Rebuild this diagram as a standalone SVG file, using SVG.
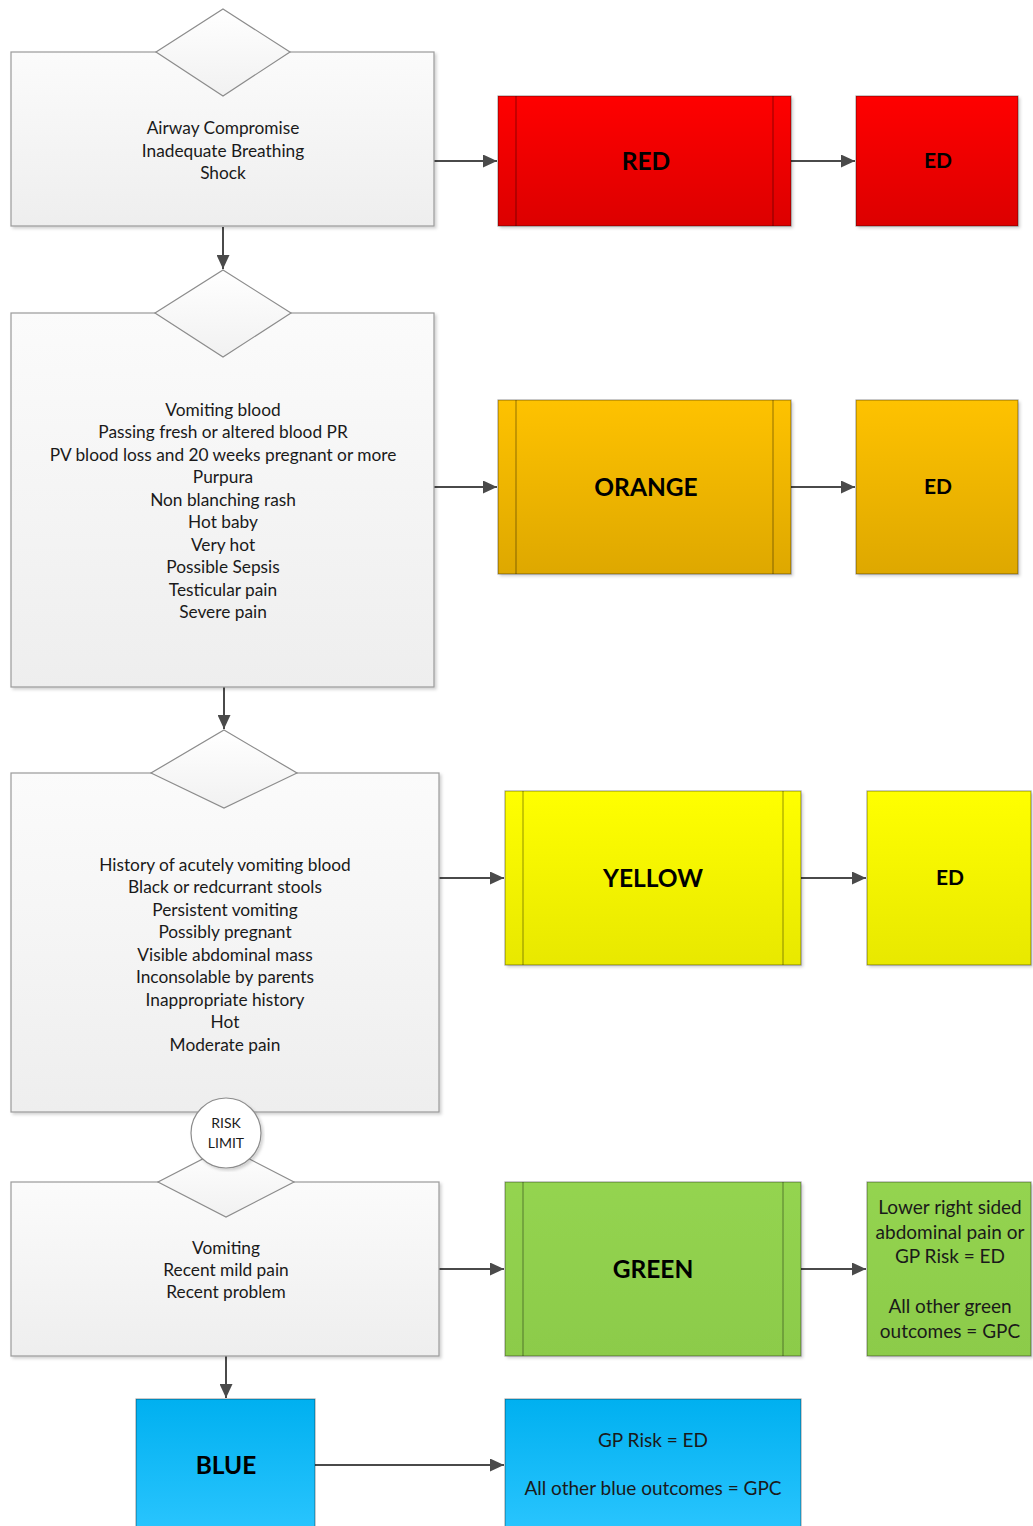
<svg xmlns="http://www.w3.org/2000/svg" width="1033" height="1526" viewBox="0 0 1033 1526">
<defs>
<linearGradient id="gGrey" x1="0" y1="0" x2="0" y2="1"><stop offset="0" stop-color="#fbfbfb"/><stop offset="1" stop-color="#eeeeee"/></linearGradient>
<linearGradient id="gDia" x1="0" y1="0" x2="0" y2="1"><stop offset="0" stop-color="#ffffff"/><stop offset="1" stop-color="#f1f1f1"/></linearGradient>
<linearGradient id="gRed" x1="0" y1="0" x2="0" y2="1"><stop offset="0" stop-color="#ff0000"/><stop offset="1" stop-color="#dc0000"/></linearGradient>
<linearGradient id="gOrange" x1="0" y1="0" x2="0" y2="1"><stop offset="0" stop-color="#fec200"/><stop offset="1" stop-color="#dea800"/></linearGradient>
<linearGradient id="gYellow" x1="0" y1="0" x2="0" y2="1"><stop offset="0" stop-color="#ffff00"/><stop offset="1" stop-color="#e8e800"/></linearGradient>
<linearGradient id="gGreen" x1="0" y1="0" x2="0" y2="1"><stop offset="0" stop-color="#94d450"/><stop offset="1" stop-color="#8ccb4a"/></linearGradient>
<linearGradient id="gBlue" x1="0" y1="0" x2="0" y2="1"><stop offset="0" stop-color="#00b0f0"/><stop offset="1" stop-color="#2cc6ff"/></linearGradient>
<filter id="sh" x="-5%" y="-5%" width="110%" height="110%"><feDropShadow dx="2" dy="2" stdDeviation="1.5" flood-color="#000" flood-opacity="0.18"/></filter>
<marker id="arr" viewBox="0 0 10 10" refX="10" refY="5" markerWidth="7" markerHeight="6.5" markerUnits="strokeWidth" orient="auto" preserveAspectRatio="none"><path d="M0,0 L10,5 L0,10 z" fill="#4a4a4a"/></marker>
</defs>
<style>
.grey{fill:url(#gGrey);stroke:#9a9a9a;stroke-width:1.2}
.dia{fill:url(#gDia);stroke:#8c8c8c;stroke-width:1.2}
.col{stroke:#000;stroke-opacity:0.35;stroke-width:1.2}
.inner{stroke:#000;stroke-opacity:0.35;stroke-width:1.2;fill:none}
.t{font-family:"Lato","Liberation Sans",sans-serif;font-size:17.3px;fill:#1a1a1a;text-anchor:middle}
.big{font-family:"Lato","Liberation Sans",sans-serif;font-size:24.5px;font-weight:bold;fill:#000;text-anchor:middle}
.ed{font-family:"Lato","Liberation Sans",sans-serif;font-size:21px;font-weight:bold;fill:#000;text-anchor:middle}
.out{font-family:"Lato","Liberation Sans",sans-serif;font-size:19px;fill:#1a1a1a;text-anchor:middle}
.small{font-family:"Lato","Liberation Sans",sans-serif;font-size:14px;fill:#1a1a1a;text-anchor:middle}
.c{stroke:#4a4a4a;stroke-width:2;fill:none;marker-end:url(#arr)}
</style>

<g id="connectors">
<line class="c" x1="434" y1="161" x2="497" y2="161"/>
<line class="c" x1="791" y1="161" x2="855" y2="161"/>
<line class="c" x1="223" y1="227" x2="223" y2="269"/>
<line class="c" x1="434" y1="487" x2="497" y2="487"/>
<line class="c" x1="791" y1="487" x2="855" y2="487"/>
<line class="c" x1="224" y1="687" x2="224" y2="729"/>
<line class="c" x1="439" y1="878" x2="504" y2="878"/>
<line class="c" x1="801" y1="878" x2="866" y2="878"/>
<line class="c" x1="439" y1="1269" x2="504" y2="1269"/>
<line class="c" x1="801" y1="1269" x2="866" y2="1269"/>
<line class="c" x1="226" y1="1356" x2="226" y2="1398"/>
<line class="c" x1="315" y1="1465" x2="504" y2="1465"/>
</g>

<g id="node-box1">
<rect class="grey" x="11" y="52" width="423" height="174" filter="url(#sh)"/>
<polygon class="dia" points="223,9 290,52 223,96 156,52"/>
<text class="t" x="223" y="134">Airway Compromise</text>
<text class="t" x="223" y="157">Inadequate Breathing</text>
<text class="t" x="223" y="179">Shock</text>
</g>

<g id="node-red">
<rect class="col" x="498" y="96" width="293" height="130" fill="url(#gRed)" filter="url(#sh)"/>
<line class="inner" x1="516" y1="96" x2="516" y2="226"/>
<line class="inner" x1="773" y1="96" x2="773" y2="226"/>
<text class="big" x="646" y="170">RED</text>
</g>
<g id="node-red-ed">
<rect class="col" x="856" y="96" width="162" height="130" fill="url(#gRed)" filter="url(#sh)"/>
<text class="ed" x="938" y="168">ED</text>
</g>

<g id="node-box2">
<rect class="grey" x="11" y="313" width="423" height="374" filter="url(#sh)"/>
<polygon class="dia" points="223,270 291,313 223,357 155,313"/>
<text class="t" x="223" y="416">Vomiting blood</text>
<text class="t" x="223" y="438">Passing fresh or altered blood PR</text>
<text class="t" x="223" y="461">PV blood loss and 20 weeks pregnant or more</text>
<text class="t" x="223" y="483">Purpura</text>
<text class="t" x="223" y="506">Non blanching rash</text>
<text class="t" x="223" y="528">Hot baby</text>
<text class="t" x="223" y="551">Very hot</text>
<text class="t" x="223" y="573">Possible Sepsis</text>
<text class="t" x="223" y="596">Testicular pain</text>
<text class="t" x="223" y="618">Severe pain</text>
</g>

<g id="node-orange">
<rect class="col" x="498" y="400" width="293" height="174" fill="url(#gOrange)" filter="url(#sh)"/>
<line class="inner" x1="516" y1="400" x2="516" y2="574"/>
<line class="inner" x1="773" y1="400" x2="773" y2="574"/>
<text class="big" x="646" y="496">ORANGE</text>
</g>
<g id="node-orange-ed">
<rect class="col" x="856" y="400" width="162" height="174" fill="url(#gOrange)" filter="url(#sh)"/>
<text class="ed" x="938" y="494">ED</text>
</g>

<g id="node-box3">
<rect class="grey" x="11" y="773" width="428" height="339" filter="url(#sh)"/>
<polygon class="dia" points="224,730 297,773 224,808 151,773"/>
<text class="t" x="225" y="871">History of acutely vomiting blood</text>
<text class="t" x="225" y="893">Black or redcurrant stools</text>
<text class="t" x="225" y="916">Persistent vomiting</text>
<text class="t" x="225" y="938">Possibly pregnant</text>
<text class="t" x="225" y="961">Visible abdominal mass</text>
<text class="t" x="225" y="983">Inconsolable by parents</text>
<text class="t" x="225" y="1006">Inappropriate history</text>
<text class="t" x="225" y="1028">Hot</text>
<text class="t" x="225" y="1051">Moderate pain</text>
</g>

<g id="node-yellow">
<rect class="col" x="505" y="791" width="296" height="174" fill="url(#gYellow)" filter="url(#sh)"/>
<line class="inner" x1="523" y1="791" x2="523" y2="965"/>
<line class="inner" x1="783" y1="791" x2="783" y2="965"/>
<text class="big" x="653" y="887">YELLOW</text>
</g>
<g id="node-yellow-ed">
<rect class="col" x="867" y="791" width="164" height="174" fill="url(#gYellow)" filter="url(#sh)"/>
<text class="ed" x="950" y="885">ED</text>
</g>

<g id="node-box4">
<rect class="grey" x="11" y="1182" width="428" height="174" filter="url(#sh)"/>
<polygon class="dia" points="226,1147 294,1182 226,1217 158,1182"/>
<text class="t" x="226" y="1254">Vomiting</text>
<text class="t" x="226" y="1276">Recent mild pain</text>
<text class="t" x="226" y="1298">Recent problem</text>
</g>

<g id="node-risk-limit">
<circle cx="226" cy="1133" r="35" fill="#ffffff" stroke="#8c8c8c" stroke-width="1.2" filter="url(#sh)"/>
<text class="small" x="226" y="1128">RISK</text>
<text class="small" x="226" y="1148">LIMIT</text>
</g>

<g id="node-green">
<rect class="col" x="505" y="1182" width="296" height="174" fill="url(#gGreen)" filter="url(#sh)"/>
<line class="inner" x1="523" y1="1182" x2="523" y2="1356"/>
<line class="inner" x1="783" y1="1182" x2="783" y2="1356"/>
<text class="big" x="653" y="1278">GREEN</text>
</g>
<g id="node-green-out">
<rect class="col" x="867" y="1182" width="164" height="174" fill="url(#gGreen)" filter="url(#sh)"/>
<text class="out" x="950" y="1214">Lower right sided</text>
<text class="out" x="950" y="1239">abdominal pain or</text>
<text class="out" x="950" y="1263">GP Risk = ED</text>
<text class="out" x="950" y="1313">All other green</text>
<text class="out" x="950" y="1338">outcomes = GPC</text>
</g>

<g id="node-blue">
<rect class="col" x="136" y="1399" width="179" height="140" fill="url(#gBlue)"/>
<text class="big" x="226" y="1474">BLUE</text>
</g>
<g id="node-blue-out">
<rect class="col" x="505" y="1399" width="296" height="140" fill="url(#gBlue)"/>
<text class="out" x="653" y="1447">GP Risk = ED</text>
<text class="out" x="653" y="1495">All other blue outcomes = GPC</text>
</g>
</svg>
